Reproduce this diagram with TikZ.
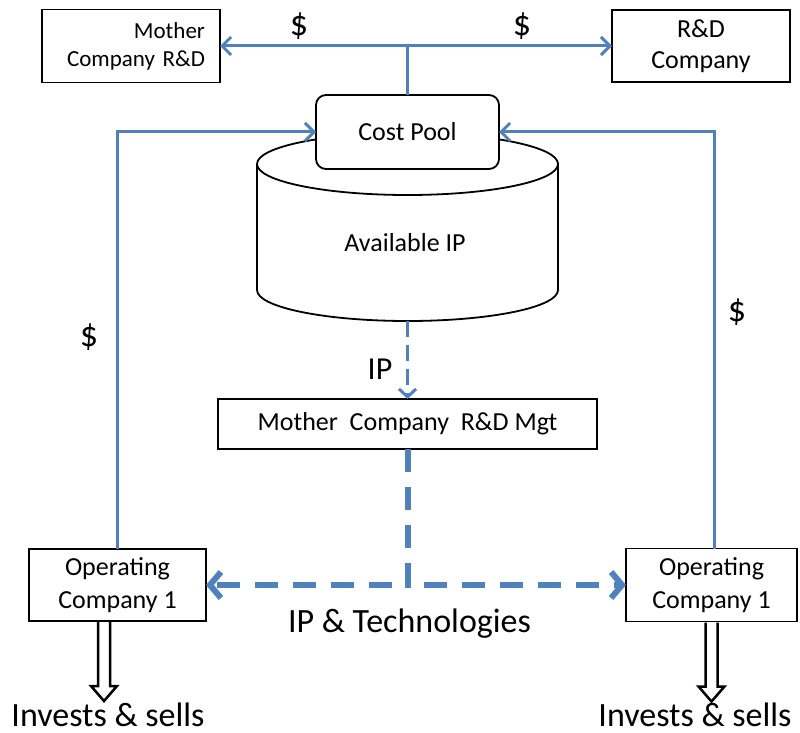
\documentclass[tikz,border=0pt]{standalone}
\usepackage{fontspec}
\setmainfont{Carlito}
\usetikzlibrary{arrows.meta,calc}
\definecolor{ablue}{HTML}{4F81BD}
\begin{document}
\begin{tikzpicture}[x=1pt,y=-1pt,
  box/.style={draw=black,line width=1.8pt,fill=white,inner sep=0pt,outer sep=0pt,
    font=\fontsize{26}{31}\selectfont,align=center},
  flow/.style={draw=ablue,line width=3pt,-{Straight Barb[length=9pt,width=18pt]}},
  ipflow/.style={draw=ablue,line width=3pt,dash pattern=on 16pt off 8pt,-{Straight Barb[length=8pt,width=17pt]}},
  techflow/.style={draw=ablue,line width=6pt,dash pattern=on 23pt off 15pt,-{Straight Barb[length=11pt,width=26pt]}},
  lbl/.style={inner sep=0pt,font=\fontsize{36}{42}\selectfont},
  big/.style={inner sep=0pt,font=\fontsize{34}{40}\selectfont},
  hollow/.style={draw=black,line width=2.5pt,fill=white,line join=miter}
]
\useasboundingbox (0,0) rectangle (800,733);

% cylinder (Available IP)
\fill[white] (257,164) -- (257,290) arc[start angle=180,end angle=0,x radius=150.5,y radius=31] -- (558,164) -- cycle;
\draw[line width=1.8pt] (257,164) -- (257,290) arc[start angle=180,end angle=0,x radius=150.5,y radius=31] -- (558,164);
\draw[line width=1.8pt,fill=white] (407.5,164) ellipse[x radius=150.5,y radius=31];
\node[inner sep=0pt,font=\fontsize{26}{31}\selectfont] (avail) at (405,243) {Available IP};
\coordinate (cylb) at (407.5,321);

% boxes
\node[box,minimum width=178pt,minimum height=73pt,text width=148pt,align=right,font=\fontsize{23}{28}\selectfont] (mrd) at (131,46) {Mother\\Company R\&D};
\node[box,minimum width=178pt,minimum height=72pt] (rdc) at (701,46) {R\&D\\Company};
\node[box,minimum width=183pt,minimum height=74pt,rounded corners=10pt] (cp) at (407.5,132) {Cost Pool};
\node[box,minimum width=379pt,minimum height=50pt] (mgt) at (407.5,424) {Mother\ \ Company\ \ R\&D Mgt};
\node[box,minimum width=177pt,minimum height=72pt,font=\fontsize{26}{33}\selectfont] (op1) at (117.5,585) {Operating\\Company 1};
\node[box,minimum width=171pt,minimum height=73pt,font=\fontsize{26}{33}\selectfont] (op2) at (711.5,585) {Operating\\Company 1};

% money flows
\draw[flow] (cp.north) |- (mrd.east);
\draw[flow] (cp.north) |- (rdc.west);
\draw[flow] (op1.north) |- (cp.west);
\draw[flow] ([xshift=2.5pt]op2.north) |- (cp.east);

% IP flows
\draw[ipflow] (cylb) -- (mgt.north);
\draw[techflow] (mgt.south) |- (op1.east);
\draw[techflow] (mgt.south) |- (op2.west);

% labels
\node[lbl] (d1) at (299,26) {\$};
\node[lbl] (d2) at (522,26) {\$};
\node[lbl] (d3) at (89,337) {\$};
\node[lbl] (d4) at (737,312) {\$};
\node[inner sep=0pt,font=\fontsize{32}{38}\selectfont] (iplbl) at (380,369) {IP};
\node[big] (tech) at (409.5,624) {IP \& Technologies};
\node[big,anchor=base] (inv1) at (108,726) {Invests \& sells};
\node[big,anchor=base] (inv2) at (695,726) {Invests \& sells};

% hollow arrows
\draw[hollow] ([xshift=-13.5pt]op1.south) ++(-6,1) -- ++(0,64) -- ++(-7,0) -- ++(13,15) -- ++(13,-15) -- ++(-7,0) -- ++(0,-64);
\draw[hollow] (op2.south) ++(-6,1) -- ++(0,64) -- ++(-7,0) -- ++(13,15) -- ++(13,-15) -- ++(-7,0) -- ++(0,-64);
\end{tikzpicture}
\end{document}
